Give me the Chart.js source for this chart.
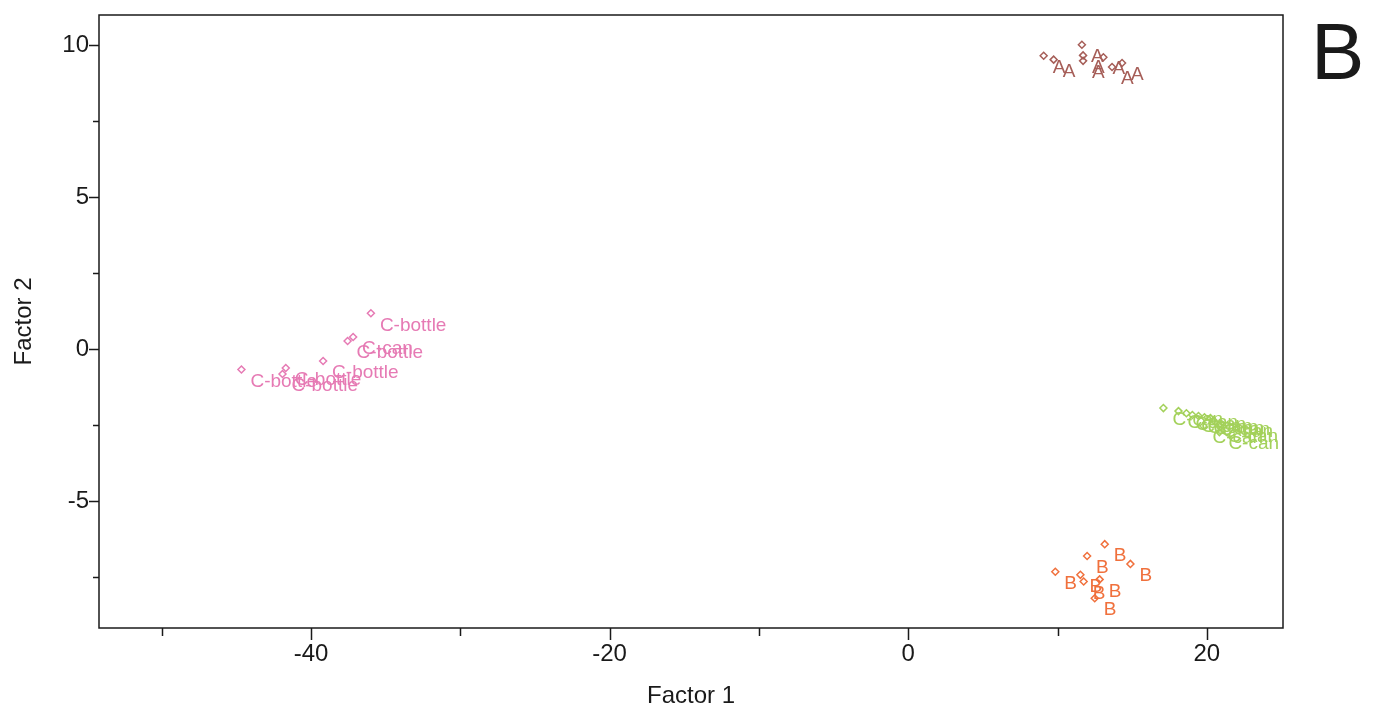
<!DOCTYPE html>
<html>
<head>
<meta charset="utf-8">
<script src="https://cdn.jsdelivr.net/npm/chart.js@4.4.1/dist/chart.umd.min.js"></script>
<style>
  html, body { margin: 0; padding: 0; background: #fff; }
  #wrap { width: 1391px; height: 720px; }
</style>
</head>
<body>
<div id="wrap"><canvas id="scoreChart" width="1391" height="720"></canvas></div>
<script>
// factor scores
const groupAx = [9.07, 9.74, 11.63, 11.71, 11.71, 13.07, 13.65, 14.32];
const groupAy = [9.66, 9.53, 10.02, 9.67, 9.49, 9.61, 9.29, 9.42];
const groupAlabels = ['A', 'A', 'A', 'A', 'A', 'A', 'A', 'A'];

const groupBx = [13.16, 11.98, 14.88, 9.85, 11.53, 11.75, 12.82, 12.49];
const groupBy = [-6.42, -6.81, -7.07, -7.33, -7.43, -7.65, -7.58, -8.20];
const groupBlabels = ['B', 'B', 'B', 'B', 'B', 'B', 'B', 'B'];

const bottleX = [-35.99, -37.18, -37.55, -39.19, -41.69, -41.91, -44.66];
const bottleY = [1.18, 0.40, 0.27, -0.39, -0.62, -0.82, -0.67];
const bottleLabels = ['C-bottle', 'C-can', 'C-bottle', 'C-bottle', 'C-bottle', 'C-bottle', 'C-bottle'];

const canX = [17.09, 18.10, 18.63, 19.03, 19.44, 19.84, 20.24, 20.44, 19.77, 20.78, 20.84];
const canY = [-1.94, -2.04, -2.11, -2.17, -2.20, -2.24, -2.27, -2.34, -2.53, -2.50, -2.73];
const canLabels = ['C-can', 'C-can', 'C-can', 'C-can', 'C-can', 'C-can', 'C-can', 'C-can', 'C-can', 'C-can', 'C-can'];

const xTicks = [-50, -40, -30, -20, -10, 0, 10, 20];
const yTicks = [-7.5, -5, -2.5, 0, 2.5, 5, 7.5, 10];
const panelLetter = 'B';

const FONT = 'Liberation Sans, Arial, Helvetica, sans-serif';

const toPoints = (xs, ys) => xs.map((x, i) => ({ x: x, y: ys[i] }));

const makeSet = (name, xs, ys, labels, color) => ({
    label: name,
    data: toPoints(xs, ys),
    pointLabels: labels,
    pointStyle: 'rectRot',
    pointRadius: 3.5,
    pointBorderWidth: 1.5,
    borderColor: color,
    backgroundColor: 'rgba(0,0,0,0)',
    showLine: false
});

// frame, tick marks, point labels and the panel letter
const decorations = {
    id: 'decorations',
    afterDatasetsDraw(chart) {
        const ctx = chart.ctx;
        const area = chart.chartArea;
        ctx.save();

        chart.data.datasets.forEach((ds, i) => {
            const meta = chart.getDatasetMeta(i);
            ctx.fillStyle = ds.borderColor;
            ctx.font = '19px ' + FONT;
            ctx.textBaseline = 'middle';
            ctx.textAlign = 'left';
            meta.data.forEach((pt, j) => {
                ctx.fillText(ds.pointLabels[j], pt.x + 9, pt.y + 12);
            });
        });

        ctx.strokeStyle = '#1a1a1a';
        ctx.lineWidth = 1.5;
        ctx.strokeRect(area.left, area.top, area.right - area.left, area.bottom - area.top);

        const xs = chart.scales.x;
        xs.ticks.forEach(t => {
            const px = Math.round(xs.getPixelForValue(t.value)) + 0.5;
            const len = t.value % 20 === 0 ? 12 : 8;
            ctx.beginPath();
            ctx.moveTo(px, area.bottom);
            ctx.lineTo(px, area.bottom + len);
            ctx.stroke();
        });
        const ys = chart.scales.y;
        ys.ticks.forEach(t => {
            const py = Math.round(ys.getPixelForValue(t.value)) + 0.5;
            const len = t.value % 5 === 0 ? 10 : 6;
            ctx.beginPath();
            ctx.moveTo(area.left, py);
            ctx.lineTo(area.left - len, py);
            ctx.stroke();
        });

        ctx.fillStyle = '#1a1a1a';
        ctx.font = '80px ' + FONT;
        ctx.textBaseline = 'alphabetic';
        ctx.fillText(panelLetter, 1311, 79);
        ctx.restore();
    }
};

new Chart(document.getElementById('scoreChart'), {
    type: 'scatter',
    data: {
        datasets: [
            makeSet('A', groupAx, groupAy, groupAlabels, '#A65E58'),
            makeSet('B', groupBx, groupBy, groupBlabels, '#F0703C'),
            makeSet('C-bottle', bottleX, bottleY, bottleLabels, '#E67AB4'),
            makeSet('C-can', canX, canY, canLabels, '#A3D15A')
        ]
    },
    options: {
        responsive: false,
        animation: false,
        devicePixelRatio: 1,
        layout: { padding: { top: 15, right: 108, left: 0, bottom: 0 } },
        plugins: {
            legend: { display: false },
            tooltip: { enabled: false }
        },
        scales: {
            x: {
                type: 'linear',
                min: -54.2,
                max: 25.1,
                afterBuildTicks: s => { s.ticks = xTicks.map(v => ({ value: v })); },
                afterFit: s => { s.height = 92; s.paddingLeft = 0; s.paddingRight = 0; },
                grid: { display: false },
                border: { display: false },
                ticks: {
                    padding: 4,
                    color: '#1a1a1a',
                    font: { family: FONT, size: 24 },
                    maxRotation: 0,
                    autoSkip: false,
                    callback: v => (v % 20 === 0 ? String(v) : '')
                },
                title: {
                    display: true,
                    text: 'Factor 1',
                    color: '#1a1a1a',
                    font: { family: FONT, size: 24 },
                    padding: { top: 0, bottom: 9 }
                }
            },
            y: {
                type: 'linear',
                min: -9.18,
                max: 11.0,
                afterBuildTicks: s => { s.ticks = yTicks.map(v => ({ value: v })); },
                afterFit: s => { s.width = 99; s.paddingTop = 0; s.paddingBottom = 0; },
                grid: { display: false },
                border: { display: false },
                ticks: {
                    padding: 2,
                    color: '#1a1a1a',
                    font: { family: FONT, size: 24 },
                    autoSkip: false,
                    callback: v => (v % 5 === 0 ? String(v) : '')
                },
                title: {
                    display: true,
                    text: 'Factor 2',
                    color: '#1a1a1a',
                    font: { family: FONT, size: 24 },
                    padding: { top: 10, bottom: 0 }
                }
            }
        }
    },
    plugins: [decorations]
});
</script>
</body>
</html>
